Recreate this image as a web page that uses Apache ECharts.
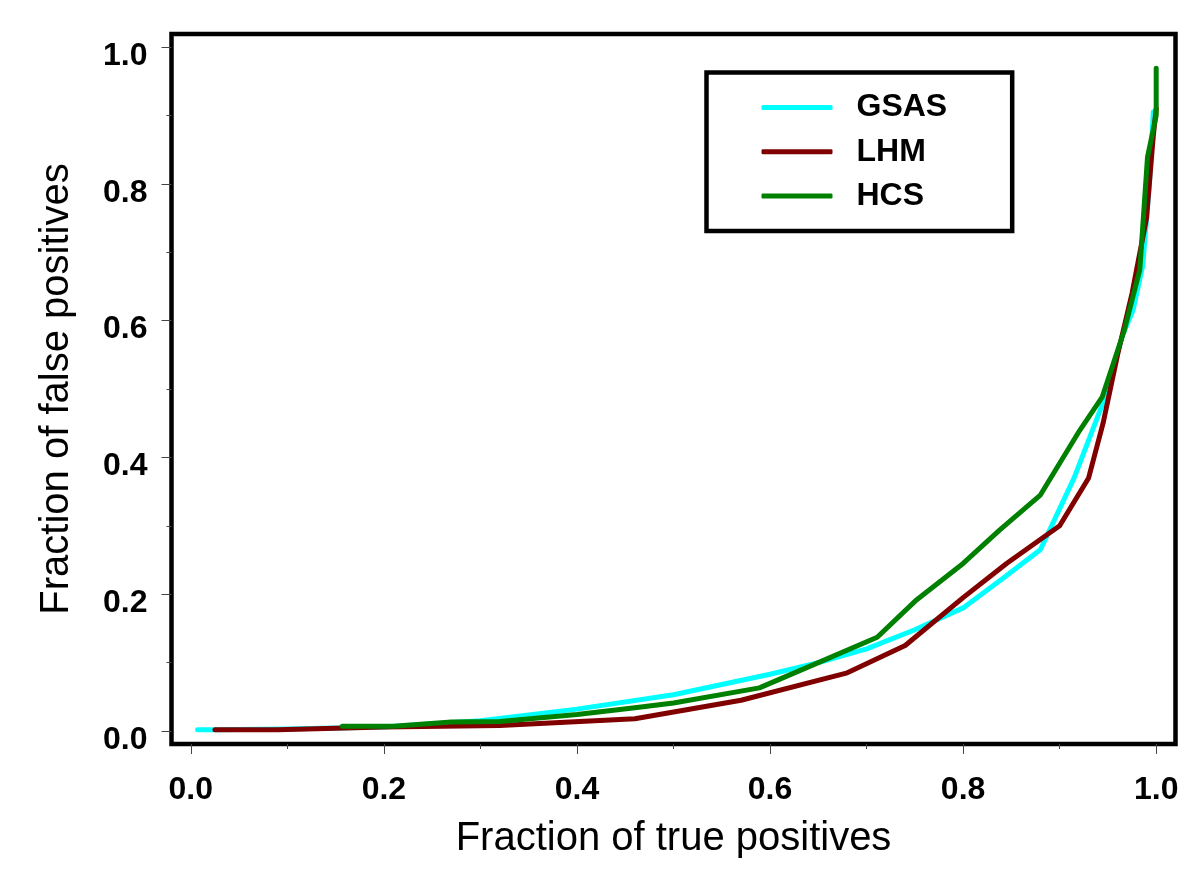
<!DOCTYPE html>
<html>
<head>
<meta charset="utf-8">
<script src="https://cdn.jsdelivr.net/npm/echarts@6/dist/echarts.min.js"></script>
<style>html,body{margin:0;padding:0;background:#fff;}#c{width:1200px;height:881px;}</style>
</head>
<body>
<div id="c"></div>
<script>
const gsasX = [0.007, 0.025, 0.1, 0.2, 0.3, 0.4, 0.5, 0.6, 0.65, 0.7, 0.75, 0.8, 0.84, 0.88, 0.915, 0.945, 0.965, 0.976, 0.986, 0.993, 0.997];
const gsasY = [0.002, 0.002, 0.003, 0.006, 0.015, 0.032, 0.053, 0.083, 0.1, 0.12, 0.148, 0.18, 0.222, 0.265, 0.37, 0.48, 0.578, 0.615, 0.68, 0.8, 0.905];
const lhmX = [0.025, 0.09, 0.2, 0.32, 0.46, 0.57, 0.68, 0.74, 0.8, 0.845, 0.9, 0.93, 0.945, 0.96, 0.975, 0.99, 0.997, 1.0];
const lhmY = [0.002, 0.002, 0.006, 0.008, 0.018, 0.045, 0.085, 0.125, 0.195, 0.245, 0.3, 0.37, 0.45, 0.55, 0.64, 0.75, 0.87, 0.91];
const hcsX = [0.157, 0.21, 0.27, 0.32, 0.4, 0.46, 0.5, 0.589, 0.65, 0.711, 0.752, 0.8, 0.838, 0.88, 0.921, 0.944, 0.967, 0.983, 0.991, 1.0, 1.0];
const hcsY = [0.007, 0.007, 0.013, 0.014, 0.024, 0.034, 0.041, 0.063, 0.1, 0.137, 0.192, 0.245, 0.294, 0.345, 0.44, 0.488, 0.586, 0.674, 0.839, 0.9, 0.969];
const majorTicks = [0, 0.2, 0.4, 0.6, 0.8, 1.0];
const minorTicks = [0.1, 0.3, 0.5, 0.7, 0.9];
const seriesNames = ['GSAS', 'LHM', 'HCS'];
const seriesColors = ['#00FFFF', '#800000', '#008000'];
const xTitle = 'Fraction of true positives';
const yTitle = 'Fraction of false positives';

const pairs = (xs, ys) => xs.map((x, i) => [x, ys[i]]);
const seriesData = [pairs(gsasX, gsasY), pairs(lhmX, lhmY), pairs(hcsX, hcsY)];

const labelFont = {fontFamily: 'Liberation Sans, Arial, sans-serif', fontWeight: 'bold', fontSize: 32, color: '#000'};
const tickLine = {color: '#444', width: 1};

function axisPair(pos, min, max, name, nameGap, labelExtra) {
  const main = {
    type: 'value', position: pos, min: min, max: max,
    name: name, nameLocation: 'middle', nameGap: nameGap,
    nameTextStyle: {fontFamily: 'Liberation Sans, Arial, sans-serif', fontSize: 40, color: '#000'},
    axisLine: {show: false, onZero: false},
    splitLine: {show: false},
    axisTick: {show: true, length: 10, lineStyle: tickLine, customValues: majorTicks},
    axisLabel: Object.assign({show: true, customValues: majorTicks, formatter: v => v.toFixed(1)}, labelFont, labelExtra)
  };
  const minor = {
    type: 'value', position: pos, min: min, max: max,
    axisLine: {show: false, onZero: false}, splitLine: {show: false},
    axisTick: {show: true, length: 5, lineStyle: tickLine, customValues: minorTicks},
    axisLabel: {show: false}
  };
  return [main, minor];
}

const chart = echarts.init(document.getElementById('c'), null, {renderer: 'canvas'});
chart.setOption({
  animation: false,
  backgroundColor: '#fff',
  grid: {left: 171.5, right: 24.5, top: 34, bottom: 137, show: true, borderWidth: 4.5, borderColor: '#000', backgroundColor: 'transparent'},
  xAxis: axisPair('bottom', -0.02, 1.02, xTitle, 75, {margin: 30}),
  yAxis: axisPair('left', -0.019, 1.019, yTitle, 95, {margin: 24, verticalAlign: 'top', lineHeight: 18}),
  legend: {
    orient: 'vertical', left: 706.5, top: 72.5,
    padding: [18, 65, 18, 55],
    backgroundColor: '#fff',
    borderColor: '#000', borderWidth: 4.5,
    icon: 'roundRect',
    itemWidth: 71, itemHeight: 5, itemGap: 10.2,
    textStyle: Object.assign({}, labelFont, {lineHeight: 34, padding: [0, 0, 0, 19]}),
    data: seriesNames
  },
  series: seriesNames.map((n, i) => ({
    name: n, type: 'line', xAxisIndex: 0, yAxisIndex: 0,
    data: seriesData[i], showSymbol: false, symbol: 'none',
    lineStyle: {color: seriesColors[i], width: 5, cap: 'round', join: 'round'},
    itemStyle: {color: seriesColors[i]}
  }))
});
</script>
</body>
</html>
